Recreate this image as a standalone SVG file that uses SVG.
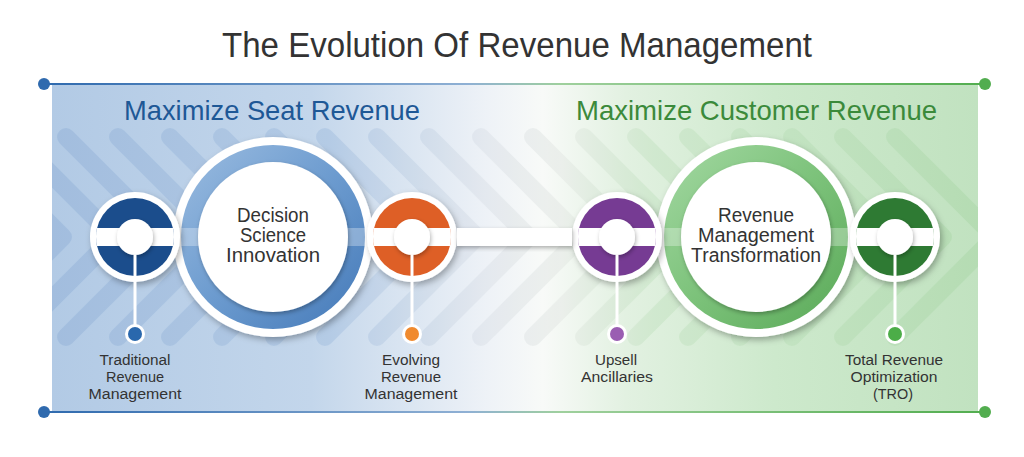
<svg xmlns="http://www.w3.org/2000/svg" width="1024" height="457" viewBox="0 0 1024 457">
<defs>
<style>
.t{font-family:"Liberation Sans","DejaVu Sans",sans-serif;fill:#333;}
.title{font-size:35px;}
.hdr{font-size:28px;}
.big{font-size:20px;text-anchor:middle;}
.lbl{font-size:15.5px;text-anchor:middle;}
.rim{fill:#fff;filter:url(#sh);}
.band{fill:#fff;}
.hub{fill:#fff;filter:url(#sh2);}
.stem{stroke:#fff;stroke-width:3;}
</style>
<linearGradient id="bg" x1="52" y1="0" x2="978" y2="0" gradientUnits="userSpaceOnUse">
<stop offset="0" stop-color="#b2cae5"/>
<stop offset="0.28" stop-color="#c3d6eb"/>
<stop offset="0.47" stop-color="#eef2f7"/>
<stop offset="0.53" stop-color="#f8faf8"/>
<stop offset="0.62" stop-color="#e2f1e1"/>
<stop offset="0.78" stop-color="#cde9cc"/>
<stop offset="1" stop-color="#c1e2c0"/>
</linearGradient>
<linearGradient id="sg" x1="52" y1="0" x2="978" y2="0" gradientUnits="userSpaceOnUse">
<stop offset="0" stop-color="#98b6da"/>
<stop offset="0.3" stop-color="#a9c3e2"/>
<stop offset="0.47" stop-color="#dfe4ea"/>
<stop offset="0.55" stop-color="#e6eae6"/>
<stop offset="0.65" stop-color="#c8e5c6"/>
<stop offset="1" stop-color="#aed9ac"/>
</linearGradient>
<linearGradient id="lg" x1="44" y1="0" x2="985" y2="0" gradientUnits="userSpaceOnUse">
<stop offset="0" stop-color="#2f6aae"/>
<stop offset="0.45" stop-color="#8fb0d4"/>
<stop offset="0.55" stop-color="#9fd09d"/>
<stop offset="1" stop-color="#52ad4f"/>
</linearGradient>
<linearGradient id="ringB" x1="0" y1="0" x2="1" y2="1">
<stop offset="0" stop-color="#9bbce0"/>
<stop offset="0.5" stop-color="#6c9bcf"/>
<stop offset="1" stop-color="#4479b8"/>
</linearGradient>
<linearGradient id="ringG" x1="0" y1="0" x2="1" y2="1">
<stop offset="0" stop-color="#a3d8a2"/>
<stop offset="0.5" stop-color="#7cc27a"/>
<stop offset="1" stop-color="#5aa958"/>
</linearGradient>
<filter id="sh" x="-30%" y="-30%" width="160%" height="160%">
<feDropShadow dx="2" dy="3" stdDeviation="3" flood-color="#000" flood-opacity="0.3"/>
</filter>
<filter id="sh2" x="-30%" y="-30%" width="160%" height="160%">
<feDropShadow dx="1" dy="2" stdDeviation="2" flood-color="#000" flood-opacity="0.3"/>
</filter>
<clipPath id="panel"><rect x="52" y="84" width="926" height="328"/></clipPath>
</defs>

<text class="t title" x="517" y="57" text-anchor="middle" textLength="590" lengthAdjust="spacingAndGlyphs">The Evolution Of Revenue Management</text>

<g id="panel-bg">
<rect x="52" y="84" width="926" height="328" fill="url(#bg)"/>
<g clip-path="url(#panel)" fill="none" stroke="url(#sg)" stroke-width="18" stroke-linecap="round" stroke-linejoin="round" opacity="0.6">
<polyline points="-37,137 63,237 -37,337"/>
<polyline points="14,137 114,237 14,337"/>
<polyline points="66,137 166,237 66,337"/>
<polyline points="118,137 218,237 118,337"/>
<polyline points="170,137 270,237 170,337"/>
<polyline points="222,137 322,237 222,337"/>
<polyline points="274,137 374,237 274,337"/>
<polyline points="325,137 425,237 325,337"/>
<polyline points="377,137 477,237 377,337"/>
<polyline points="429,137 529,237 429,337"/>
<polyline points="481,137 581,237 481,337"/>
<polyline points="533,137 633,237 533,337"/>
<polyline points="584,137 684,237 584,337"/>
<polyline points="636,137 736,237 636,337"/>
<polyline points="688,137 788,237 688,337"/>
<polyline points="740,137 840,237 740,337"/>
<polyline points="792,137 892,237 792,337"/>
<polyline points="843,137 943,237 843,337"/>
<polyline points="895,137 995,237 895,337"/>
</g>
<line x1="44" y1="84" x2="985" y2="84" stroke="url(#lg)" stroke-width="2"/>
<line x1="44" y1="412" x2="985" y2="412" stroke="url(#lg)" stroke-width="2"/>
<circle cx="44" cy="84" r="6" fill="#2f6aae"/>
<circle cx="44" cy="412" r="6" fill="#2f6aae"/>
<circle cx="985" cy="84" r="6" fill="#52ad4f"/>
<circle cx="985" cy="412" r="6" fill="#52ad4f"/>
</g>

<text class="t hdr" x="124" y="120" style="fill:#1e5896" textLength="296" lengthAdjust="spacingAndGlyphs">Maximize Seat Revenue</text>
<text class="t hdr" x="576" y="120" style="fill:#3b8a3b" textLength="361" lengthAdjust="spacingAndGlyphs">Maximize Customer Revenue</text>

<g id="n-decision">
<circle class="rim" cx="273" cy="237" r="100"/>
<circle cx="273" cy="237" r="92" fill="url(#ringB)"/>
<rect x="181" y="228" width="184" height="18" fill="#fff" opacity="0.3"/>
<circle class="hub" cx="273" cy="237" r="75"/>
<text class="t big" x="273" y="222" textLength="72" lengthAdjust="spacingAndGlyphs">Decision</text>
<text class="t big" x="273" y="242" textLength="66" lengthAdjust="spacingAndGlyphs">Science</text>
<text class="t big" x="273" y="262" textLength="94" lengthAdjust="spacingAndGlyphs">Innovation</text>
</g>

<g id="n-rmt">
<circle class="rim" cx="756" cy="237" r="100"/>
<circle cx="756" cy="237" r="92" fill="url(#ringG)"/>
<rect x="664" y="228" width="184" height="18" fill="#fff" opacity="0.3"/>
<circle class="hub" cx="756" cy="237" r="75"/>
<text class="t big" x="756" y="222" textLength="76" lengthAdjust="spacingAndGlyphs">Revenue</text>
<text class="t big" x="756" y="242" textLength="116" lengthAdjust="spacingAndGlyphs">Management</text>
<text class="t big" x="756" y="262" textLength="130" lengthAdjust="spacingAndGlyphs">Transformation</text>
</g>

<g id="n-traditional">
<circle class="rim" cx="135" cy="237" r="45"/>
<circle cx="135" cy="237" r="39" fill="#1b4d8c"/>
<path class="band" d="M97.05,228 L172.95,228 A39,39 0 0 1 172.95,246 L97.05,246 A39,39 0 0 1 97.05,228 Z"/>
<circle class="hub" cx="135" cy="237" r="18"/>
<circle cx="135" cy="334" r="10" fill="#fff"/>
<circle cx="135" cy="334" r="7" fill="#2a68ad"/>
<text class="t lbl" x="135" y="365" textLength="71" lengthAdjust="spacingAndGlyphs">Traditional</text>
<text class="t lbl" x="135" y="382" textLength="58" lengthAdjust="spacingAndGlyphs">Revenue</text>
<text class="t lbl" x="135" y="399" textLength="93" lengthAdjust="spacingAndGlyphs">Management</text>
</g>

<g id="n-evolving">
<circle class="rim" cx="412" cy="237" r="45"/>
<circle cx="412" cy="237" r="39" fill="#de5f26"/>
<path class="band" d="M374.05,228 L449.95,228 A39,39 0 0 1 449.95,246 L374.05,246 A39,39 0 0 1 374.05,228 Z"/>
<circle class="hub" cx="412" cy="237" r="18"/>
<circle cx="412" cy="334" r="10" fill="#fff"/>
<circle cx="412" cy="334" r="7" fill="#f08a2e"/>
<text class="t lbl" x="411" y="365" textLength="58" lengthAdjust="spacingAndGlyphs">Evolving</text>
<text class="t lbl" x="411" y="382" textLength="60" lengthAdjust="spacingAndGlyphs">Revenue</text>
<text class="t lbl" x="411" y="399" textLength="93" lengthAdjust="spacingAndGlyphs">Management</text>
</g>

<g id="n-upsell">
<circle class="rim" cx="617" cy="237" r="45"/>
<circle cx="617" cy="237" r="39" fill="#763b93"/>
<path class="band" d="M579.05,228 L654.95,228 A39,39 0 0 1 654.95,246 L579.05,246 A39,39 0 0 1 579.05,228 Z"/>
<circle class="hub" cx="617" cy="237" r="18"/>
<circle cx="617" cy="334" r="10" fill="#fff"/>
<circle cx="617" cy="334" r="7" fill="#9a5eb2"/>
<text class="t lbl" x="616" y="365" textLength="42" lengthAdjust="spacingAndGlyphs">Upsell</text>
<text class="t lbl" x="617" y="382" textLength="72" lengthAdjust="spacingAndGlyphs">Ancillaries</text>
</g>

<g id="n-tro">
<circle class="rim" cx="895" cy="237" r="45"/>
<circle cx="895" cy="237" r="39" fill="#2e7a33"/>
<path class="band" d="M857.05,228 L932.95,228 A39,39 0 0 1 932.95,246 L857.05,246 A39,39 0 0 1 857.05,228 Z"/>
<circle class="hub" cx="895" cy="237" r="18"/>
<circle cx="895" cy="334" r="10" fill="#fff"/>
<circle cx="895" cy="334" r="7" fill="#4cad48"/>
<text class="t lbl" x="894" y="365" textLength="98" lengthAdjust="spacingAndGlyphs">Total Revenue</text>
<text class="t lbl" x="894" y="382" textLength="87" lengthAdjust="spacingAndGlyphs">Optimization</text>
<text class="t lbl" x="893" y="399" textLength="40" lengthAdjust="spacingAndGlyphs">(TRO)</text>
</g>

<g id="connectors">
<rect x="457" y="228" width="115" height="18" fill="#fff" filter="url(#sh2)"/>
<line class="stem" x1="135" y1="255" x2="135" y2="325"/>
<line class="stem" x1="412" y1="255" x2="412" y2="325"/>
<line class="stem" x1="617" y1="255" x2="617" y2="325"/>
<line class="stem" x1="895" y1="255" x2="895" y2="325"/>
</g>
</svg>
